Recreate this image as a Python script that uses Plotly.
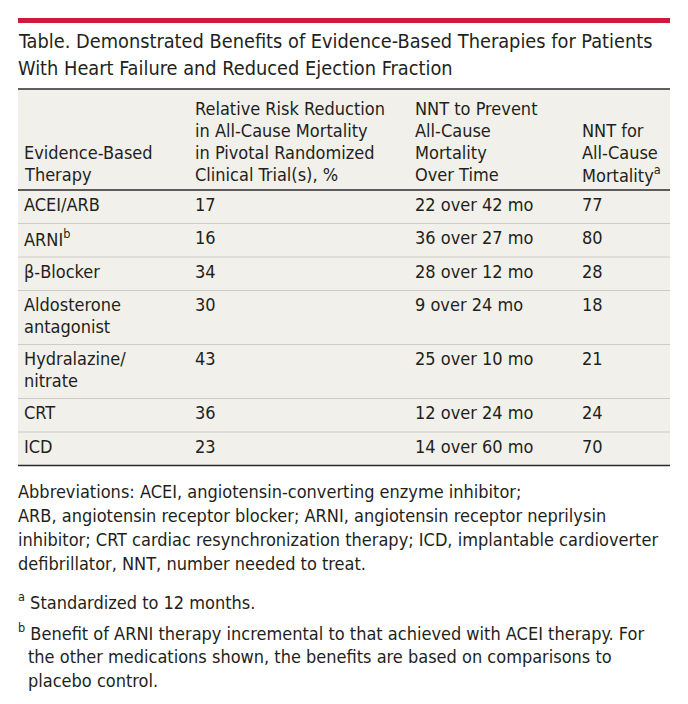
import plotly.graph_objects as go

# ---------------- data ----------------
title_lines = [
    "Table. Demonstrated Benefits of Evidence-Based Therapies for Patients",
    "With Heart Failure and Reduced Ejection Fraction",
]
header_cols = [
    ["Evidence-Based", "Therapy"],
    ["Relative Risk Reduction", "in All-Cause Mortality", "in Pivotal Randomized", "Clinical Trial(s), %"],
    ["NNT to Prevent", "All-Cause", "Mortality", "Over Time"],
    ["NNT for", "All-Cause", "Mortality<sup>a</sup>"],
]
therapies = [
    ["ACEI/ARB"],
    ["ARNI<sup>b</sup>"],
    ["β-Blocker"],
    ["Aldosterone", "antagonist"],
    ["Hydralazine/", "nitrate"],
    ["CRT"],
    ["ICD"],
]
rrr_pct = [17, 16, 34, 30, 43, 36, 23]
nnt_count = [22, 36, 28, 9, 25, 12, 14]
nnt_months = [42, 27, 12, 24, 10, 24, 60]
nnt_12mo = [77, 80, 28, 18, 21, 24, 70]

abbrev_lines = [
    "Abbreviations: ACEI, angiotensin-converting enzyme inhibitor;",
    "ARB, angiotensin receptor blocker; ARNI, angiotensin receptor neprilysin",
    "inhibitor; CRT cardiac resynchronization therapy; ICD, implantable cardioverter",
    "defibrillator, NNT, number needed to treat.",
]
footnotes = [
    ("a", ["Standardized to 12 months."]),
    ("b", ["Benefit of ARNI therapy incremental to that achieved with ACEI therapy. For",
           "the other medications shown, the benefits are based on comparisons to",
           "placebo control."]),
]

# ---------------- layout constants ----------------
W, H = 688, 704
OFF = 8  # page body margin
FONT = "DejaVu Sans Condensed, Liberation Sans Narrow, Arial Narrow, sans-serif"
TEXT = "#231f20"
RED = "#cf1a3c"
BEIGE = "#f1f0ea"
SEP = "#cdccc4"
X0, X1 = 18, 670
COL_X = [22, 193, 413, 580]
BODY = 18

fig = go.Figure()
fig.add_trace(go.Scatter(x=[], y=[], hoverinfo="skip", showlegend=False))

shapes = []
ann = []


def txt(x, y, s, size=BODY, color=TEXT):
    ann.append(dict(x=x, y=y, xref="x", yref="y", text=s, showarrow=False,
                    xanchor="left", yanchor="middle", align="left",
                    font=dict(family=FONT, size=size, color=color)))


def hline(y, color, width):
    shapes.append(dict(type="line", xref="x", yref="y", x0=X0, x1=X1, y0=y, y1=y,
                       line=dict(color=color, width=width)))


# red top bar
shapes.append(dict(type="rect", xref="x", yref="y", x0=X0, x1=X1, y0=18, y1=23,
                   fillcolor=RED, line=dict(width=0)))

# title
for i, s in enumerate(title_lines):
    txt(16, 41 + 27 * i, s, size=19.8)

# table geometry
HEAD_TOP, HEAD_BOT = 89, 190
BASE_H, EXTRA_H, LINE_H = 33.5, 20.5, 22
row_tops = []
y = HEAD_BOT
for t in therapies:
    row_tops.append(y)
    y += BASE_H + EXTRA_H * (len(t) - 1)
TABLE_BOT = y

shapes.append(dict(type="rect", xref="x", yref="y", x0=X0, x1=X1, y0=HEAD_TOP, y1=TABLE_BOT,
                   fillcolor=BEIGE, line=dict(width=0), layer="below"))

# header text (bottom aligned)
for cx, lines in zip(COL_X, header_cols):
    n = len(lines)
    for j, s in enumerate(lines):
        txt(cx, 174 - 21.7 * (n - 1 - j), s)

# body rows
for i, top in enumerate(row_tops):
    for j, s in enumerate(therapies[i]):
        txt(COL_X[0], top + 14 + LINE_H * j, s)
    txt(COL_X[1], top + 14, str(rrr_pct[i]))
    txt(COL_X[2], top + 14, f"{nnt_count[i]} over {nnt_months[i]} mo")
    txt(COL_X[3], top + 14, str(nnt_12mo[i]))
    if i > 0:
        hline(top, SEP, 1.2)

hline(HEAD_TOP, "#2b2b2b", 1.5)
hline(HEAD_BOT, "#2b2b2b", 1.5)
hline(TABLE_BOT, "#2b2b2b", 1.5)

# abbreviations
for i, s in enumerate(abbrev_lines):
    txt(16, 491 + 24.3 * i, s, size=18)

# footnotes
fy = [601, 632]
for (mark, lines), y0 in zip(footnotes, fy):
    for j, s in enumerate(lines):
        if j == 0:
            txt(16, y0, f"<sup>{mark}</sup> {s}", size=18)
        else:
            txt(26, y0 + 24.3 * j, s, size=18)

fig.update_layout(
    width=W - OFF, height=H - OFF, margin=dict(l=0, r=0, t=0, b=0),
    paper_bgcolor="white", plot_bgcolor="white",
    xaxis=dict(range=[OFF, W], visible=False, fixedrange=True),
    yaxis=dict(range=[H, OFF], visible=False, fixedrange=True),
    shapes=shapes, annotations=ann, showlegend=False,
)
fig.write_html("out.html")
